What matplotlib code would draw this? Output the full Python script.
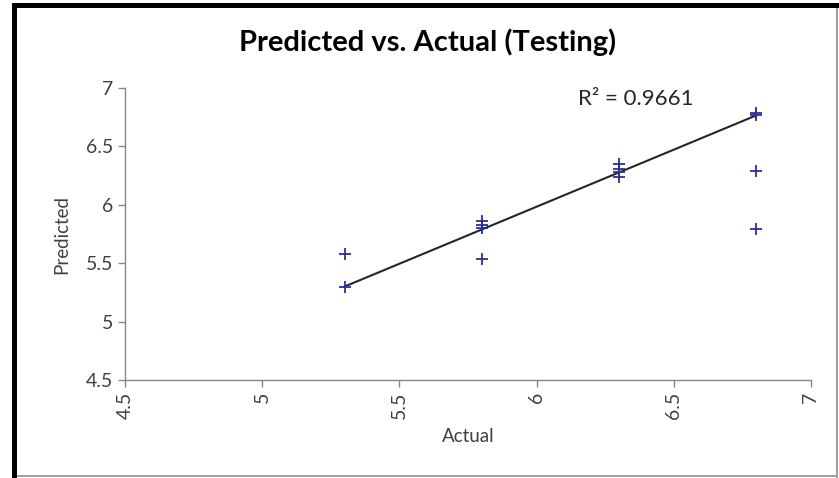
import numpy as np
import matplotlib.pyplot as plt
from matplotlib.patches import Rectangle

plt.rcParams['font.family'] = ['Lato', 'DejaVu Sans']

# Messwerte (Testdaten)
actual = [5.3, 5.3, 5.8, 5.8, 5.8, 5.8, 6.3, 6.3, 6.3, 6.3, 6.8, 6.8, 6.8, 6.8]
predicted = [5.58, 5.30, 5.86, 5.83, 5.80, 5.54, 6.35, 6.31, 6.28, 6.24,
             6.79, 6.77, 6.29, 5.79]

# Trendlinie (aus Excel)
trend_x = [5.3, 6.8]
trend_y = [5.30, 6.765]
r2_text = "R² = 0.9661"

ticks = [4.5, 5, 5.5, 6, 6.5, 7]
tick_labels = ["4.5", "5", "5.5", "6", "6.5", "7"]

fig = plt.figure(figsize=(8.39, 4.78), dpi=100)
ax = fig.add_axes([0.149, 0.205, 0.8176, 0.6109])

ax.plot(trend_x, trend_y, color="#262626", linewidth=1.5, zorder=2)
ax.plot(actual, predicted, linestyle="none", marker="+", markersize=9,
        markeredgewidth=1.3, color="#2b2f9a", zorder=3)

ax.set_xlim(4.5, 7)
ax.set_ylim(4.5, 7)
ax.set_xticks(ticks)
ax.set_xticklabels(tick_labels, rotation=90)
ax.set_yticks(ticks)
ax.set_yticklabels(tick_labels)

grey = "#868686"
for side in ["top", "right"]:
    ax.spines[side].set_visible(False)
for side in ["left", "bottom"]:
    ax.spines[side].set_color(grey)
    ax.spines[side].set_linewidth(1.0)
ax.tick_params(axis="both", colors=grey, length=5, width=1.0,
               labelcolor="#404040", labelsize=14)

ax.set_xlabel("Actual", fontsize=13.5, color="#404040")
ax.set_ylabel("Predicted", fontsize=13.5, color="#404040")
ax.xaxis.set_label_coords(0.5, -0.195)
ax.yaxis.set_label_coords(-0.092, 0.5)
ax.xaxis.label.set_va("center")
ax.yaxis.label.set_va("center")

ax.text(6.15, 6.91, r2_text, fontsize=16, color="#262626", ha="left", va="center")

fig.text(0.51, 0.912, "Predicted vs. Actual (Testing)", fontsize=21,
         fontweight="bold", ha="center", va="center", color="black")

# Rahmen
fig.add_artist(Rectangle((12 / 839, 0), 5 / 839, 1 - 3 / 478,
                         transform=fig.transFigure, color="black", lw=0))
fig.add_artist(Rectangle((12 / 839, 1 - 8 / 478), 1 - 12 / 839, 5 / 478,
                         transform=fig.transFigure, color="black", lw=0))
fig.add_artist(Rectangle((836 / 839, 0), 2 / 839, 1 - 8 / 478,
                         transform=fig.transFigure, color="#a0a0a0", lw=0))
fig.add_artist(Rectangle((17 / 839, 1 / 478), 1 - 20 / 839, 2 / 478,
                         transform=fig.transFigure, color="#a0a0a0", lw=0))

fig.savefig("out.png", dpi=100)
